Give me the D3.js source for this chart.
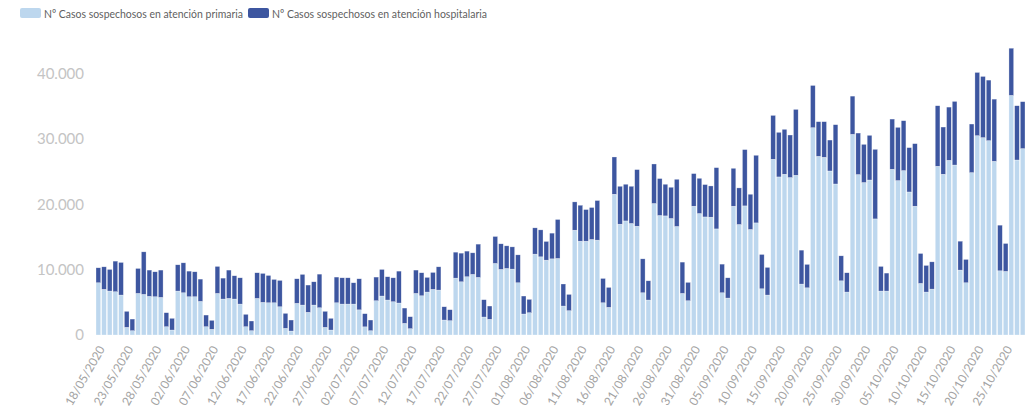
<!DOCTYPE html>
<html>
<head>
<meta charset="utf-8">
<script src="https://cdn.jsdelivr.net/npm/d3@7"></script>
<style>
  body { margin: 0; background: #fff; }
  .axis text { font-family: Lato, sans-serif; }
  .legend text { font-family: Lato, sans-serif; font-size: 12px; fill: #5f5f5f; }
</style>
</head>
<body>
<div class="chart"></div>
<script>
// daily values, 18/05/2020 .. 28/10/2020
const primaria = [
  7990, 6980, 6720, 6620, 6110, 1170, 660,
  6360, 6210, 5910, 5850, 5750, 1270, 760,
  6720, 6460, 5850, 5850, 5140, 1270, 870,
  6360, 5500, 5600, 5500, 4730, 1270, 660,
  5600, 4990, 4930, 4930, 4320, 1020, 610,
  4840, 4580, 3470, 4580, 4170, 1170, 760,
  4930, 4730, 4730, 4730, 3850, 1250, 660,
  5240, 5960, 5350, 5090, 4890, 1780, 970,
  6360, 6000, 6570, 6980, 6870, 2290, 2190,
  8700, 8140, 8910, 9270, 8810, 2750, 2400,
  10950, 10030, 10180, 10080, 7990, 3210, 3410,
  12370, 11960, 11450, 11650, 11710, 4430, 3720,
  16030, 14350, 14350, 14610, 14510, 4930, 4230,
  21530, 16950, 17450, 17060, 16640, 6460, 5350,
  20110, 18280, 18220, 17820, 16600, 6360, 5240,
  19700, 18580, 18060, 18020, 16230, 6460, 5650,
  19700, 16900, 19750, 16140, 17150, 7070, 6110,
  26880, 24180, 24590, 24080, 24430, 7790, 7220,
  31710, 27330, 27180, 25090, 23100, 8290, 6570,
  30690, 24540, 23320, 23710, 17760, 6720, 6720,
  25350, 23620, 25150, 21880, 19700, 7890, 6570,
  7020, 25810, 24590, 26720, 26000, 9930, 7990,
  24840, 30490, 30190, 29730, 26570, 9820, 9730,
  36650, 26770, 28510
];
const hospitalaria = [
  2290, 3450, 3310, 4680, 4990, 2450, 1780,
  3820, 6510, 4020, 3820, 4180, 2140, 1790,
  4020, 4580, 3920, 3820, 3410, 1780, 1370,
  4130, 3200, 4330, 3560, 4020, 1890, 1480,
  3920, 4430, 4180, 3570, 4030, 2290, 1680,
  3760, 4690, 4170, 3560, 5140, 2450, 1790,
  3930, 4020, 4020, 3260, 4750, 2010, 1630,
  3620, 4070, 3560, 3660, 4880, 2340, 1830,
  3570, 3520, 2240, 2590, 3560, 2030, 1680,
  3970, 4380, 3920, 3300, 5090, 2650, 2030,
  4120, 3920, 3460, 3400, 4270, 2750, 2040,
  4020, 4120, 2860, 3930, 5960, 3370, 2490,
  4330, 5500, 4840, 4890, 6060, 3720, 3050,
  5700, 5800, 5610, 5690, 8660, 5190, 2940,
  6050, 5650, 4840, 4780, 7220, 4790, 2810,
  4990, 5390, 4950, 4780, 9370, 4380, 3100,
  5800, 5600, 8610, 5390, 10340, 5250, 4230,
  6710, 6820, 6870, 6510, 10080, 5190, 3580,
  6460, 5300, 5450, 4730, 9070, 3820, 2950,
  5850, 6350, 5840, 6830, 10640, 3770, 2750,
  7680, 8140, 7630, 6780, 9570, 4580, 4070,
  4170, 9260, 7220, 8140, 9730, 4420, 3570,
  7430, 9670, 9360, 9260, 9510, 6980, 4270,
  7220, 8300, 7180
];
const tickLabels = [
  "18/05/2020", "23/05/2020", "28/05/2020", "02/06/2020", "07/06/2020", "12/06/2020",
  "17/06/2020", "22/06/2020", "27/06/2020", "02/07/2020", "07/07/2020", "12/07/2020",
  "17/07/2020", "22/07/2020", "27/07/2020", "01/08/2020", "06/08/2020", "11/08/2020",
  "16/08/2020", "21/08/2020", "26/08/2020", "31/08/2020", "05/09/2020", "10/09/2020",
  "15/09/2020", "20/09/2020", "25/09/2020", "30/09/2020", "05/10/2020", "10/10/2020",
  "15/10/2020", "20/10/2020", "25/10/2020"
];
const yTicks = [0, 10000, 20000, 30000, 40000];
const seriesNames = ["Nº Casos sospechosos en atención primaria", "Nº Casos sospechosos en atención hospitalaria"];
const seriesColors = ["#bdd7ee", "#3d56a0"];

const fmtDay = d3.timeFormat("%d/%m/%Y");
const days = d3.timeDay.range(new Date(2020, 4, 18), new Date(2020, 9, 29)).map(fmtDay);
const data = days.map((d, i) => ({ day: d, primaria: primaria[i], hospitalaria: hospitalaria[i] }));

const es = d3.formatLocale({ decimal: ",", thousands: ".", grouping: [3], currency: ["", " €"] });
const fmtNum = es.format(",d");

const W = 1031, H = 414;
const svg = d3.select(".chart").append("svg")
    .attr("width", W)
    .attr("height", H);

const xScale = d3.scaleBand().domain(days).range([96, 1025]).paddingInner(0.17).paddingOuter(0);
const yScale = d3.scaleLinear().domain([0, 40000]).range([335, 73.5]);

const stacked = d3.stack().keys(["primaria", "hospitalaria"])(data);

svg.append("g").selectAll("g")
    .data(stacked)
    .join("g")
    .attr("fill", (d, i) => seriesColors[i])
    .selectAll("rect")
    .data(d => d)
    .join("rect")
    .attr("x", d => xScale(d.data.day))
    .attr("width", xScale.bandwidth())
    .attr("y", d => yScale(d[1]))
    .attr("height", d => yScale(d[0]) - yScale(d[1]))
    .attr("stroke", "#fff")
    .attr("stroke-opacity", 0.6)
    .attr("stroke-width", 0.5);

// y axis
const yAxis = d3.axisLeft(yScale).tickValues(yTicks).tickFormat(fmtNum).tickSize(0).tickPadding(0);
svg.append("g")
    .attr("class", "axis y-axis")
    .attr("transform", "translate(84,0)")
    .call(yAxis)
    .call(g => g.select(".domain").remove())
    .selectAll("text")
    .attr("font-size", 15)
    .attr("fill", "#c4c4c4");

// x axis
const xAxis = d3.axisBottom(xScale)
    .tickValues(tickLabels)
    .tickSize(0)
    .tickPadding(0);
svg.append("g")
    .attr("class", "axis x-axis")
    .attr("transform", "translate(0,335)")
    .call(xAxis)
    .call(g => g.select(".domain").remove())
    .selectAll("text")
    .attr("font-size", 12)
    .attr("fill", "#a3a3a3")
    .attr("text-anchor", "end")
    .attr("dy", null)
    .attr("y", 0)
    .attr("transform", "translate(7,14) rotate(-60)");

// legend
const legend = svg.append("g").attr("class", "legend");
const legendX = [20, 248];
const legendTextW = [199, 215];
seriesNames.forEach((name, i) => {
    const g = legend.append("g").attr("transform", `translate(${legendX[i]},8)`);
    g.append("rect").attr("width", 21).attr("height", 10).attr("rx", 2).attr("fill", seriesColors[i]);
    g.append("text")
        .attr("x", 24)
        .attr("y", 9.5)
        .attr("textLength", legendTextW[i])
        .attr("lengthAdjust", "spacingAndGlyphs")
        .text(name);
});
</script>
</body>
</html>
